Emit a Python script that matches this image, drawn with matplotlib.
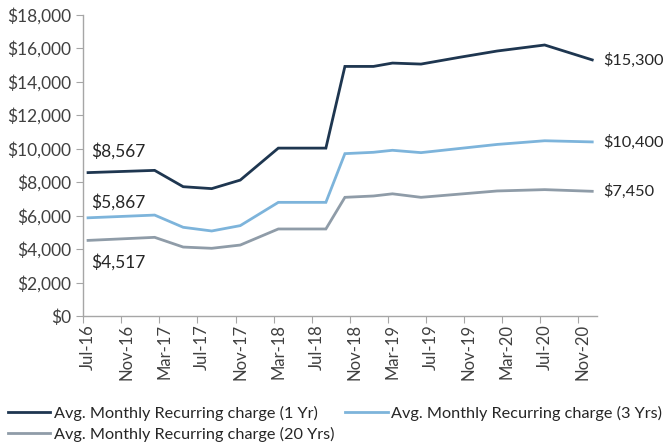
import matplotlib
matplotlib.use("Agg")
import matplotlib.pyplot as plt

plt.rcParams['font.family'] = ['Lato', 'DejaVu Sans']

# Months Jul-16 .. Dec-20 (54 monthly categories)
start_year, start_month = 2016, 7
n_months = 54
month_names = ['Jan', 'Feb', 'Mar', 'Apr', 'May', 'Jun', 'Jul', 'Aug', 'Sep', 'Oct', 'Nov', 'Dec']
categories = []
for i in range(n_months):
    m = (start_month - 1 + i) % 12
    y = start_year + (start_month - 1 + i) // 12
    categories.append(f"{month_names[m]}-{str(y)[2:]}")

# Vertex points (month label, value)
months_1yr = ['Jul-16', 'Feb-17', 'May-17', 'Aug-17', 'Nov-17', 'Mar-18', 'Aug-18', 'Oct-18',
              'Jan-19', 'Mar-19', 'Jun-19', 'Oct-19', 'Feb-20', 'Jul-20', 'Dec-20']
values_1yr = [8567, 8700, 7725, 7610, 8120, 10030, 10030, 14910,
              14910, 15110, 15050, 15450, 15830, 16190, 15300]

months_3yr = ['Jul-16', 'Feb-17', 'May-17', 'Aug-17', 'Nov-17', 'Mar-18', 'Aug-18', 'Oct-18',
              'Jan-19', 'Mar-19', 'Jun-19', 'Feb-20', 'Jul-20', 'Dec-20']
values_3yr = [5867, 6030, 5300, 5080, 5400, 6790, 6790, 9700,
              9780, 9900, 9760, 10250, 10470, 10400]

months_20yr = ['Jul-16', 'Feb-17', 'May-17', 'Aug-17', 'Nov-17', 'Mar-18', 'Aug-18', 'Oct-18',
               'Jan-19', 'Mar-19', 'Jun-19', 'Feb-20', 'Jul-20', 'Dec-20']
values_20yr = [4517, 4700, 4120, 4045, 4240, 5200, 5200, 7090,
               7170, 7300, 7090, 7470, 7550, 7450]

series_names = ['Avg. Monthly Recurring charge (1 Yr)',
                'Avg. Monthly Recurring charge (3 Yrs)',
                'Avg. Monthly Recurring charge (20 Yrs)']
colors = ['#1E3650', '#7DB4DB', '#8F9CA8']

tick_labels = categories[::4]
yticks = list(range(0, 18001, 2000))

fig = plt.figure(figsize=(6.68, 4.48), dpi=100)
ax = fig.add_axes([0.1247, 0.2946, 0.7690, 0.6726])

idx = {c: i for i, c in enumerate(categories)}
data = [(months_1yr, values_1yr), (months_3yr, values_3yr), (months_20yr, values_20yr)]
handles = []
for (ms, vs), name, col in zip(data, series_names, colors):
    h, = ax.plot([idx[m] for m in ms], vs, color=col, lw=2.0, label=name, solid_joinstyle='miter')
    handles.append(h)

ax.set_xlim(-0.5, n_months - 0.5)
ax.set_ylim(0, 18000)

# Tick marks at category boundaries, labels at category centres
ax.set_xticks([i - 0.5 for i in range(0, n_months, 4)])
ax.set_xticklabels([])
ax.set_xticks(list(range(0, n_months, 4)), minor=True)
ax.set_xticklabels(tick_labels, minor=True, rotation=90, fontsize=12, color='#404040')
ax.tick_params(axis='x', which='major', length=5, color='#A6A6A6')
ax.tick_params(axis='x', which='minor', length=0, pad=6)

ax.set_yticks(yticks)
ax.set_yticklabels([f"${v:,}" for v in yticks], fontsize=12.5, color='#404040')
ax.tick_params(axis='y', length=5, color='#A6A6A6', pad=4)

for s in ['top', 'right']:
    ax.spines[s].set_visible(False)
for s in ['left', 'bottom']:
    ax.spines[s].set_color('#A6A6A6')
    ax.spines[s].set_linewidth(1.0)

# Data labels
lbl_kw = dict(fontsize=12.5, color='#262626')
ax.text(0.3, values_1yr[0] + 750, f"${values_1yr[0]:,}", ha='left', va='bottom', **lbl_kw)
ax.text(0.3, values_3yr[0] + 400, f"${values_3yr[0]:,}", ha='left', va='bottom', **lbl_kw)
ax.text(0.3, values_20yr[0] - 800, f"${values_20yr[0]:,}", ha='left', va='top', **lbl_kw)
rk = dict(fontsize=11.8, color='#262626')
ax.text(n_months - 0.5 + 0.7, values_1yr[-1], f"${values_1yr[-1]:,}", ha='left', va='center', clip_on=False, **rk)
ax.text(n_months - 0.5 + 0.7, values_3yr[-1], f"${values_3yr[-1]:,}", ha='left', va='center', clip_on=False, **rk)
ax.text(n_months - 0.5 + 0.7, values_20yr[-1], f"${values_20yr[-1]:,}", ha='left', va='center', clip_on=False, **rk)

# Legend filled row-wise: (1 Yr, 3 Yrs) on first row, (20 Yrs) on second
order = [0, 2, 1]
leg = fig.legend([handles[i] for i in order], [series_names[i] for i in order],
                 loc='upper left', bbox_to_anchor=(0.012, 0.095), ncol=2, frameon=False,
                 fontsize=11.7, handlelength=2.6, handletextpad=0.2, columnspacing=0.7,
                 labelspacing=0.4, borderaxespad=0.0, borderpad=0.0)
for t in leg.get_texts():
    t.set_color('#262626')

fig.savefig('out.png', dpi=100)
